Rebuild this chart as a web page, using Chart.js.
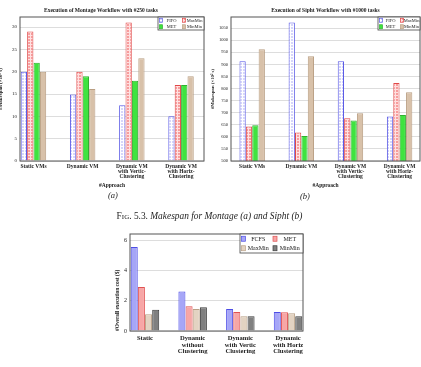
<!DOCTYPE html>
<html lang="en">
<head>
    <meta charset="UTF-8">
    <title>Makespan and cost of workflow scheduling</title>
    <script src="https://cdn.jsdelivr.net/npm/chart.js"></script>
    <style>
        body { margin: 0; background: #fff; width: 421px; height: 367px; overflow: hidden; position: relative; font-family: "Liberation Serif", serif; color: #222; }
        canvas { position: absolute; }
        .sub { position: absolute; font-size: 8.5px; font-style: italic; }
        #caption { position: absolute; left: 0; width: 419px; top: 211px; text-align: center; font-size: 9.4px; font-style: italic; }
        #caption span { font-style: normal; font-variant: small-caps; }
    </style>
</head>
<body>
    <canvas id="montage" width="212" height="192" style="left:-2px;top:0"></canvas>
    <canvas id="sipht" width="211" height="192" style="left:210px;top:0"></canvas>
    <canvas id="cost" width="205" height="145" style="left:105px;top:222px"></canvas>
    <div class="sub" style="left:108px;top:190px">(a)</div>
    <div class="sub" style="left:300px;top:191px">(b)</div>
    <div id="caption"><span>Fig. 5.3.</span> Makespan for Montage (a) and Sipht (b)</div>
    <script>
        // categories
        const approachesTop = [['Static VMs'], ['Dynamic VM'], ['Dynamic VM', 'with Vertic-', 'Clustering'], ['Dynamic VM', 'with Horiz-', 'Clustering']];
        const approachesCost = [['Static'], ['Dynamic', 'without', 'Clustering'], ['Dynamic', 'with Vertic', 'Clustering'], ['Dynamic', 'with Horiz', 'Clustering']];

        // (a) Montage, 250 tasks
        const montageFIFO = [20, 14.9, 12.5, 10];
        const montageMaxMin = [29, 20, 31, 17];
        const montageMET = [22, 19, 18, 17];
        const montageMinMin = [20, 16.1, 23, 19];
        const montageTicks = [0, 5, 10, 15, 20, 25, 30];

        // (b) Sipht, 1000 tasks
        const siphtFIFO = [913, 1073, 913, 684];
        const siphtMaxMin = [643, 618, 677, 823];
        const siphtMET = [648, 603, 668, 690];
        const siphtMinMin = [963, 934, 698, 785];
        const siphtTicks = [500, 550, 600, 650, 700, 750, 800, 850, 900, 950, 1000, 1050];

        // overall execution cost
        const costFCFS = [5.56, 2.61, 1.46, 1.26];
        const costMET = [2.92, 1.64, 1.26, 1.24];
        const costMaxMin = [1.11, 1.46, 0.98, 1.18];
        const costMinMin = [1.40, 1.57, 0.98, 0.98];
        const costTicks = [0, 2, 4, 6];

        const serif = '"Liberation Serif", serif';

        // small hatched fills like the pgfplots "grid" pattern
        function gridPattern(bg, line) {
            const c = document.createElement('canvas');
            c.width = 3; c.height = 3;
            const g = c.getContext('2d');
            g.fillStyle = bg; g.fillRect(0, 0, 3, 3);
            g.fillStyle = line;
            g.fillRect(0, 2, 3, 1);
            g.fillRect(2, 0, 1, 3);
            return g.createPattern(c, 'repeat');
        }
        const fifoFill = gridPattern('#d6d6fa', '#ffffff');
        const maxMinFill = gridPattern('#f79c9c', '#ffe0e0');

        // box round the plot area
        const framePlugin = {
            id: 'frame',
            afterDatasetsDraw(chart) {
                const { ctx, chartArea: a } = chart;
                ctx.save();
                ctx.strokeStyle = '#555';
                ctx.lineWidth = 1;
                ctx.strokeRect(a.left, a.top, a.right - a.left, a.bottom - a.top);
                ctx.restore();
            }
        };

        // 2x2 legend inside the top right corner
        const boxLegend = {
            id: 'boxLegend',
            afterDraw(chart, args, opts) {
                const { ctx, chartArea } = chart;
                const w = opts.width, h = opts.height;
                const x0 = chartArea.right - w, y0 = chartArea.top;
                ctx.save();
                ctx.fillStyle = '#fff';
                ctx.fillRect(x0, y0, w, h);
                ctx.strokeStyle = '#444';
                ctx.lineWidth = 0.8;
                ctx.strokeRect(x0, y0, w, h);
                ctx.font = opts.font;
                ctx.textBaseline = 'middle';
                ctx.textAlign = 'center';
                chart.data.datasets.forEach((ds, i) => {
                    const col = i % 2, row = Math.floor(i / 2);
                    const cx = x0 + 1.5 + col * w / 2;
                    const cy = y0 + h / 4 + row * h / 2;
                    ctx.fillStyle = ds.backgroundColor;
                    ctx.fillRect(cx, cy - opts.sh / 2, opts.sw, opts.sh);
                    ctx.strokeStyle = ds.borderColor;
                    ctx.lineWidth = 0.7;
                    ctx.strokeRect(cx, cy - opts.sh / 2, opts.sw, opts.sh);
                    ctx.fillStyle = '#222';
                    const tx = cx + opts.sw + (w / 2 - opts.sw - 2) / 2;
                    ctx.fillText(ds.label, tx, cy + 0.3);
                });
                ctx.restore();
            }
        };

        function series(label, values, fill, border) {
            return {
                label: label,
                data: values.map((v, i) => ({ x: i, y: v })),
                backgroundColor: fill,
                borderColor: border,
                borderWidth: 1,
                borderSkipped: 'bottom'
            };
        }

        function makeChart(id, o) {
            return new Chart(document.getElementById(id).getContext('2d'), {
                type: 'bar',
                data: { datasets: o.datasets },
                plugins: [framePlugin, boxLegend],
                options: {
                    responsive: false,
                    animation: false,
                    devicePixelRatio: 1,
                    layout: { padding: o.padding },
                    datasets: { bar: { categoryPercentage: o.catPct, barPercentage: 0.98 } },
                    plugins: {
                        legend: { display: false },
                        tooltip: { enabled: false },
                        title: o.title,
                        boxLegend: o.legend
                    },
                    scales: {
                        x: {
                            type: 'linear',
                            offset: false,
                            min: o.xMin,
                            max: o.xMax,
                            afterBuildTicks: s => { s.ticks = o.labels.map((l, i) => ({ value: i })); },
                            afterFit: s => { s.height = o.xHeight; },
                            grid: { display: false, drawTicks: false },
                            border: { display: false },
                            ticks: {
                                autoSkip: false,
                                maxRotation: 0,
                                padding: o.xPad,
                                color: '#222',
                                font: { family: serif, size: o.xFont, weight: 'bold', lineHeight: o.xLine },
                                callback: v => o.labels[v]
                            },
                            title: o.xTitle
                        },
                        y: {
                            min: o.yMin,
                            max: o.yMax,
                            afterBuildTicks: s => { s.ticks = o.yTicks.map(v => ({ value: v })); },
                            afterFit: s => { s.width = o.yWidth; },
                            grid: { color: '#d4d4d4', lineWidth: 0.8, drawTicks: false },
                            border: { display: false },
                            ticks: { padding: 3, color: '#222', font: { family: serif, size: o.yFont }, callback: v => String(v) },
                            title: {
                                display: true,
                                text: o.yTitle,
                                align: o.yTitleAlign,
                                color: '#222',
                                font: { family: serif, size: o.yTitleFont, weight: 'bold' },
                                padding: { top: o.yTitlePad, bottom: 0 }
                            }
                        }
                    }
                }
            });
        }

        makeChart('montage', {
            datasets: [
                series('FIFO', montageFIFO, fifoFill, '#5a5ae6'),
                series('MaxMin', montageMaxMin, maxMinFill, '#e04848'),
                series('MET', montageMET, '#3fe33f', '#2fb02f'),
                series('MinMin', montageMinMin, '#d8c1a9', '#b99e82')
            ],
            labels: approachesTop,
            padding: { top: 0, right: 6, left: 0, bottom: 0 },
            catPct: 0.52,
            xMin: -0.274, xMax: 3.467,
            xHeight: 31, xPad: 3, xFont: 5.5, xLine: 0.88,
            xTitle: { display: true, text: '#Approach', color: '#222', font: { family: serif, size: 5.5, weight: 'bold' }, padding: { top: 0, bottom: 3 } },
            yMin: 0, yMax: 32.25, yTicks: montageTicks,
            yWidth: 22, yFont: 5, yTitleFont: 5, yTitlePad: 0, yTitleAlign: 'center',
            yTitle: '#Makespan (\u00d710\u00b2 s)',
            title: { display: true, text: 'Execution of Montage Workflow with #250 tasks', color: '#222', font: { family: serif, size: 5.5, weight: 'bold' }, padding: { top: 7, bottom: 3.4 } },
            legend: { width: 46, height: 13, font: '4.5px ' + serif, sw: 3, sh: 4 }
        });

        makeChart('sipht', {
            datasets: [
                series('FIFO', siphtFIFO, fifoFill, '#5a5ae6'),
                series('MaxMin', siphtMaxMin, maxMinFill, '#e04848'),
                series('MET', siphtMET, '#3fe33f', '#2fb02f'),
                series('MinMin', siphtMinMin, '#d8c1a9', '#b99e82')
            ],
            labels: approachesTop,
            padding: { top: 0, right: 1, left: 0, bottom: 0 },
            catPct: 0.52,
            xMin: -0.431, xMax: 3.415,
            xHeight: 31, xPad: 3, xFont: 5.5, xLine: 0.88,
            xTitle: { display: true, text: '#Approach', color: '#222', font: { family: serif, size: 5.5, weight: 'bold' }, padding: { top: 0, bottom: 3 } },
            yMin: 500, yMax: 1096, yTicks: siphtTicks,
            yWidth: 21, yFont: 4.5, yTitleFont: 4.8, yTitlePad: 0, yTitleAlign: 'center',
            yTitle: '#Makespan (\u00d710\u00b2 s)',
            title: { display: true, fullSize: false, text: 'Execution of Sipht Workflow with #1000 tasks', color: '#222', font: { family: serif, size: 5.5, weight: 'bold' }, padding: { top: 7, bottom: 3.4 } },
            legend: { width: 42, height: 13, font: '4.5px ' + serif, sw: 3, sh: 4 }
        });

        makeChart('cost', {
            datasets: [
                series('FCFS', costFCFS, '#a6a6f7', '#4d4de6'),
                series('MET', costMET, '#f7a6a6', '#e05252'),
                series('MaxMin', costMaxMin, '#e3d3c2', '#b9a086'),
                series('MinMin', costMinMin, '#808080', '#3c3c3c')
            ],
            labels: approachesCost,
            padding: { top: 12, right: 7, left: 0, bottom: 0 },
            catPct: 0.6,
            xMin: -0.314, xMax: 3.314,
            xHeight: 36, xPad: 4, xFont: 6.6, xLine: 1.0,
            xTitle: { display: false },
            yMin: 0, yMax: 6.42, yTicks: costTicks,
            yWidth: 25, yFont: 6, yTitleFont: 5.4, yTitlePad: 9.5, yTitleAlign: 'start',
            yTitle: '#Overall execution cost ($)',
            title: { display: false },
            legend: { width: 63, height: 19, font: '6px ' + serif, sw: 4, sh: 5 }
        });
    </script>
</body>
</html>
